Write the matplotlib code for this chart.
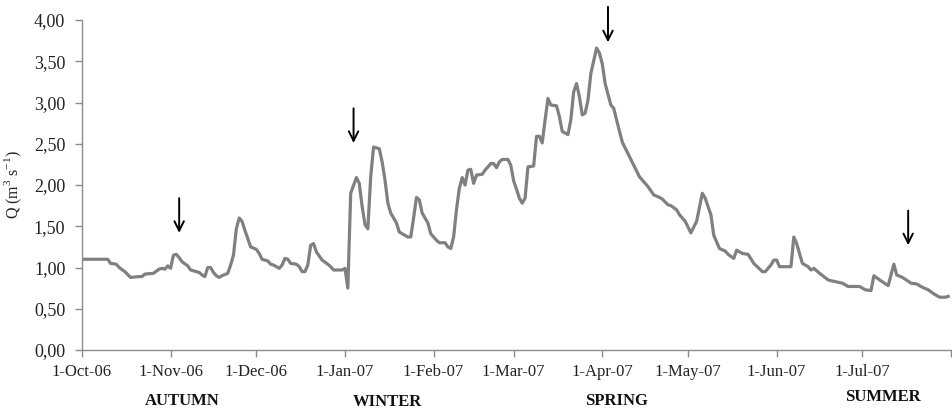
import pandas as pd
import numpy as np
import matplotlib.pyplot as plt
from matplotlib.ticker import FuncFormatter
from matplotlib.transforms import blended_transform_factory

# ------------------------------------------
# Daily discharge Q, Oct 2006 - Jul 2007
# ------------------------------------------

# days counted from 1-Oct-06
day_offset = [0, 9, 10, 12, 13, 15, 17, 20, 21, 22, 25, 27, 28, 29, 30,
              31, 32, 33, 34, 35, 37, 38, 40, 41, 42, 43, 44, 45, 46, 47, 48, 49, 51, 52, 53, 54,
              55, 56, 57, 58, 59,
              61, 62, 63, 65, 66, 67, 69, 70, 71, 72, 73, 75, 76, 77, 78, 79, 80, 81, 82, 83, 84,
              86, 87, 88, 91,
              92, 93, 94, 96, 97, 98, 99, 100, 101, 102, 104, 105, 106, 107, 108, 110, 111, 112,
              114, 115, 116, 117, 118, 119, 121, 122,
              124, 125, 127, 128, 129, 130, 131, 132, 133, 134, 135, 136, 137, 138, 140, 141, 143,
              144, 145, 146, 147, 149, 150,
              151, 152, 153, 154, 155, 156, 158, 159, 160, 161, 162, 163, 164, 166, 167, 168, 170,
              171, 172, 173, 174, 175, 176, 177, 178, 180,
              181, 182, 183, 185, 186, 187, 189, 191, 193, 195, 198, 200, 202, 203, 205, 206, 208,
              209, 211,
              213, 215, 217, 218, 220, 221, 223, 225, 226, 228, 229, 231, 233, 235, 238, 239, 241,
              242,
              243, 244, 248, 249, 250, 252, 254, 255, 256, 258, 261, 262, 266, 268, 272,
              274, 276, 277, 279, 282, 284, 285, 287, 290, 292, 294, 296, 298, 300, 302, 303]

discharge = [1.10, 1.10, 1.05, 1.04, 1.00, 0.95, 0.88, 0.89, 0.89, 0.92, 0.93, 0.98, 0.99, 0.98, 1.02,
             0.99, 1.15, 1.16, 1.12, 1.07, 1.02, 0.97, 0.95, 0.94, 0.91, 0.89, 1.00, 1.00, 0.94, 0.90, 0.88, 0.90, 0.93, 1.03, 1.15, 1.47,
             1.60, 1.56, 1.45, 1.35, 1.25,
             1.22, 1.17, 1.10, 1.08, 1.04, 1.03, 0.99, 1.03, 1.11, 1.10, 1.05, 1.04, 1.01, 0.95, 0.95, 1.03, 1.27, 1.29, 1.19, 1.14, 1.09,
             1.04, 1.01, 0.97, 0.97,
             0.99, 0.75, 1.90, 2.09, 2.02, 1.74, 1.52, 1.47, 2.10, 2.46, 2.44, 2.28, 2.06, 1.78, 1.66, 1.54, 1.43, 1.41,
             1.37, 1.37, 1.60, 1.85, 1.82, 1.66, 1.54, 1.41,
             1.33, 1.30, 1.30, 1.25, 1.23, 1.37, 1.70, 1.96, 2.09, 2.00, 2.18, 2.19, 2.02, 2.12, 2.13, 2.18, 2.26,
             2.26, 2.21, 2.28, 2.31, 2.31, 2.24,
             2.05, 1.95, 1.84, 1.78, 1.84, 2.22, 2.23, 2.59, 2.59, 2.51, 2.79, 3.05, 2.97, 2.96, 2.83, 2.65, 2.61,
             2.79, 3.13, 3.23, 3.07, 2.85, 2.87, 3.03, 3.35, 3.66,
             3.60, 3.47, 3.23, 2.97, 2.93, 2.79, 2.52, 2.38, 2.24, 2.10, 1.98, 1.88, 1.85, 1.83, 1.76, 1.75, 1.70,
             1.64, 1.56,
             1.42, 1.56, 1.90, 1.84, 1.64, 1.39, 1.23, 1.20, 1.16, 1.11, 1.21, 1.17, 1.16, 1.05, 0.95, 0.95, 1.03,
             1.09,
             1.09, 1.01, 1.01, 1.37, 1.29, 1.05, 1.01, 0.97, 0.99, 0.93, 0.85, 0.84, 0.81, 0.77, 0.77,
             0.73, 0.72, 0.90, 0.85, 0.78, 1.04, 0.91, 0.88, 0.81, 0.80, 0.76, 0.73, 0.68, 0.64, 0.64, 0.65]

start = pd.Timestamp('2006-10-01')
df = pd.DataFrame({'Date': start + pd.to_timedelta(day_offset, unit='D'), 'Q': discharge})

# arrows marking the sampling campaigns (date, tip level, tail level)
arrow_dates = ['2006-11-04', '2007-01-04', '2007-04-03', '2007-07-17']
arrow_tip = [1.42, 2.51, 3.73, 1.27]
arrow_tail = [1.84, 2.93, 4.16, 1.69]

# season labels under the axis
season_names = ['AUTUMN', 'WINTER', 'SPRING', 'SUMMER']
season_dates = ['2006-11-05', '2007-01-16', '2007-04-06', '2007-07-08']
season_level = [-0.155, -0.158, -0.155, -0.143]

month_ticks = pd.date_range('2006-10-01', '2007-08-01', freq='MS')

plt.rcParams['font.family'] = ['Liberation Serif', 'DejaVu Serif']
plt.rcParams['mathtext.fontset'] = 'custom'
plt.rcParams['mathtext.rm'] = 'Liberation Serif'

fig = plt.figure(figsize=(9.52, 4.11), dpi=100)
ax = fig.add_axes([0.0861, 0.1484, 0.9129, 0.8029])

ax.plot(df['Date'], df['Q'], color='#808080', linewidth=2.3, solid_joinstyle='round')

for d, tip, tail in zip(arrow_dates, arrow_tip, arrow_tail):
    ax.annotate('', xy=(pd.Timestamp(d), tip), xytext=(pd.Timestamp(d), tail),
                arrowprops=dict(arrowstyle='->', color='black', lw=1.4, mutation_scale=17,
                                shrinkA=0, shrinkB=0),
                annotation_clip=False)

trans = blended_transform_factory(ax.transData, ax.transAxes)
for name, d, lev in zip(season_names, season_dates, season_level):
    ax.text(pd.Timestamp(d), lev, name, transform=trans, ha='center', va='center',
            fontsize=12, fontweight='bold', color='#111111')

# axes styling
ax.set_ylim(0, 4)
ax.set_yticks(np.arange(0, 4.01, 0.5))
ax.yaxis.set_major_formatter(FuncFormatter(lambda v, p: f'{v:.2f}'.replace('.', ',')))
ax.set_xlim(month_ticks[0], month_ticks[-1])
ax.set_xticks(month_ticks)
ax.set_xticklabels([f'{d.day}-{d.strftime("%b-%y")}' for d in month_ticks[:-1]] + [''])

for side in ['top', 'right']:
    ax.spines[side].set_visible(False)
for side in ['left', 'bottom']:
    ax.spines[side].set_color('#8c8c8c')
    ax.spines[side].set_linewidth(1.0)
ax.tick_params(axis='both', colors='#8c8c8c', length=5, width=1.0,
               labelcolor='#222222', direction='out')
ax.tick_params(axis='x', labelsize=12, pad=5)
ax.tick_params(axis='y', labelsize=13, pad=7)

ax.set_ylabel('Q (m$^{3}$ s$^{-1}$)', fontsize=11.5, color='#222222', labelpad=7)

plt.savefig('out.png', dpi=100)
